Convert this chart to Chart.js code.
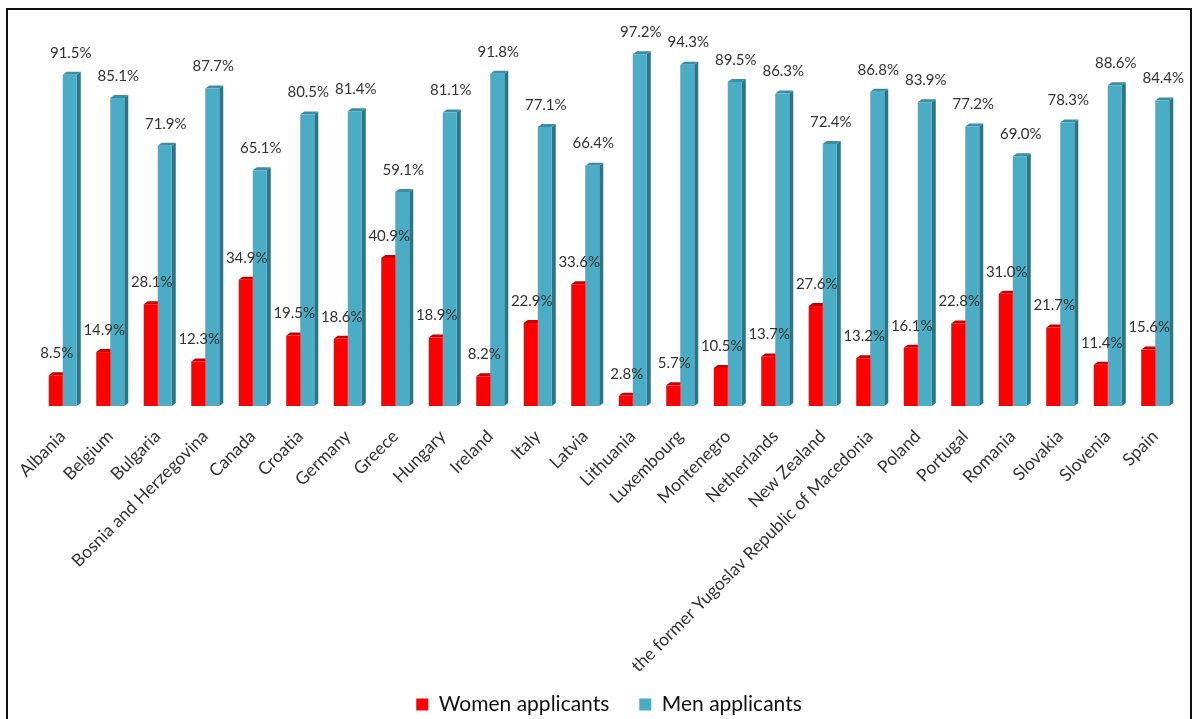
<!DOCTYPE html>
<html><head><meta charset="utf-8">
<script src="https://cdn.jsdelivr.net/npm/chart.js@4/dist/chart.umd.min.js"></script>
<style>html,body{margin:0;padding:0;background:#fff}</style>
</head><body>
<canvas id="c" width="1198" height="719"></canvas>
<script>
const categories = ["Albania","Belgium","Bulgaria","Bosnia and Herzegovina","Canada","Croatia","Germany","Greece","Hungary","Ireland","Italy","Latvia","Lithuania","Luxembourg","Montenegro","Netherlands","New Zealand","the former Yugoslav Republic of Macedonia","Poland","Portugal","Romania","Slovakia","Slovenia","Spain"];
const womenApplicants = [8.5,14.9,28.1,12.3,34.9,19.5,18.6,40.9,18.9,8.2,22.9,33.6,2.8,5.7,10.5,13.7,27.6,13.2,16.1,22.8,31.0,21.7,11.4,15.6];
const menApplicants = [91.5,85.1,71.9,87.7,65.1,80.5,81.4,59.1,81.1,91.8,77.1,66.4,97.2,94.3,89.5,86.3,72.4,86.8,83.9,77.2,69.0,78.3,88.6,84.4];
const seriesNames = ["Women applicants","Men applicants"];

const FONT = "Lato, 'Open Sans', sans-serif";

const depth3d = {
  id: 'depth3d',
  beforeDatasetsDraw(chart) {
    const ctx = chart.ctx, dx = 4, dy = 3;
    ctx.save();
    chart.data.datasets.forEach((ds, i) => {
      chart.getDatasetMeta(i).data.forEach(bar => {
        const p = bar.getProps(['x','y','base','width'], true);
        const l = p.x - p.width/2, r = p.x + p.width/2;
        ctx.fillStyle = ds.sideColor;
        ctx.beginPath();
        ctx.moveTo(r, p.y); ctx.lineTo(r+dx, p.y-dy); ctx.lineTo(r+dx, p.base-dy); ctx.lineTo(r, p.base);
        ctx.closePath(); ctx.fill();
        ctx.fillStyle = ds.topColor;
        ctx.beginPath();
        ctx.moveTo(l, p.y); ctx.lineTo(l+dx, p.y-dy); ctx.lineTo(r+dx, p.y-dy); ctx.lineTo(r, p.y);
        ctx.closePath(); ctx.fill();
      });
    });
    ctx.restore();
  }
};

const valueLabels = {
  id: 'valueLabels',
  afterDatasetsDraw(chart) {
    const ctx = chart.ctx;
    ctx.save();
    ctx.font = "15px " + FONT;
    ctx.fillStyle = '#333333';
    ctx.textAlign = 'center';
    ctx.textBaseline = 'middle';
    chart.data.datasets.forEach((ds, i) => {
      chart.getDatasetMeta(i).data.forEach((bar, j) => {
        const p = bar.getProps(['x','y'], true);
        ctx.fillText(ds.data[j].toFixed(1) + '%', p.x + 1, p.y - 22);
      });
    });
    ctx.restore();
  }
};

const noLabelClip = {
  id: 'noLabelClip',
  beforeDraw(chart) {
    chart.scales.x._computeLabelArea = () => undefined;
  }
};

const frame = {
  id: 'frame',
  afterDraw(chart) {
    const ctx = chart.ctx;
    ctx.save();
    ctx.strokeStyle = '#111';
    ctx.lineWidth = 2;
    ctx.strokeRect(7, 9, 1184, 740);
    ctx.restore();
  }
};

new Chart(document.getElementById('c'), {
  type: 'bar',
  data: {
    labels: categories,
    datasets: [
      { label: seriesNames[0], data: womenApplicants, backgroundColor: '#FF0000', sideColor: '#B00000', topColor: '#C80000' },
      { label: seriesNames[1], data: menApplicants, backgroundColor: '#4BACC6', sideColor: '#2F7385', topColor: '#3A8FA5' }
    ]
  },
  options: {
    responsive: false,
    animation: false,
    events: [],
    layout: { padding: { top: 44, left: 39, right: 19, bottom: -6 } },
    datasets: { bar: { categoryPercentage: 0.59, barPercentage: 1.0 } },
    scales: {
      x: {
        grid: { display: false },
        border: { display: false },
        ticks: { color: '#333333', font: { family: FONT, size: 17.5 }, minRotation: 45, maxRotation: 45, padding: 12, autoSkip: false },
        afterFit(scale) { scale.height = 258; }
      },
      y: { display: false, min: 0, max: 100 }
    },
    plugins: {
      legend: {
        position: 'bottom',
        labels: { color: '#111', font: { family: FONT, size: 21 }, boxWidth: 12, boxHeight: 12, padding: 30 }
      },
      tooltip: { enabled: false }
    }
  },
  plugins: [depth3d, valueLabels, noLabelClip, frame]
});
</script>
</body></html>
